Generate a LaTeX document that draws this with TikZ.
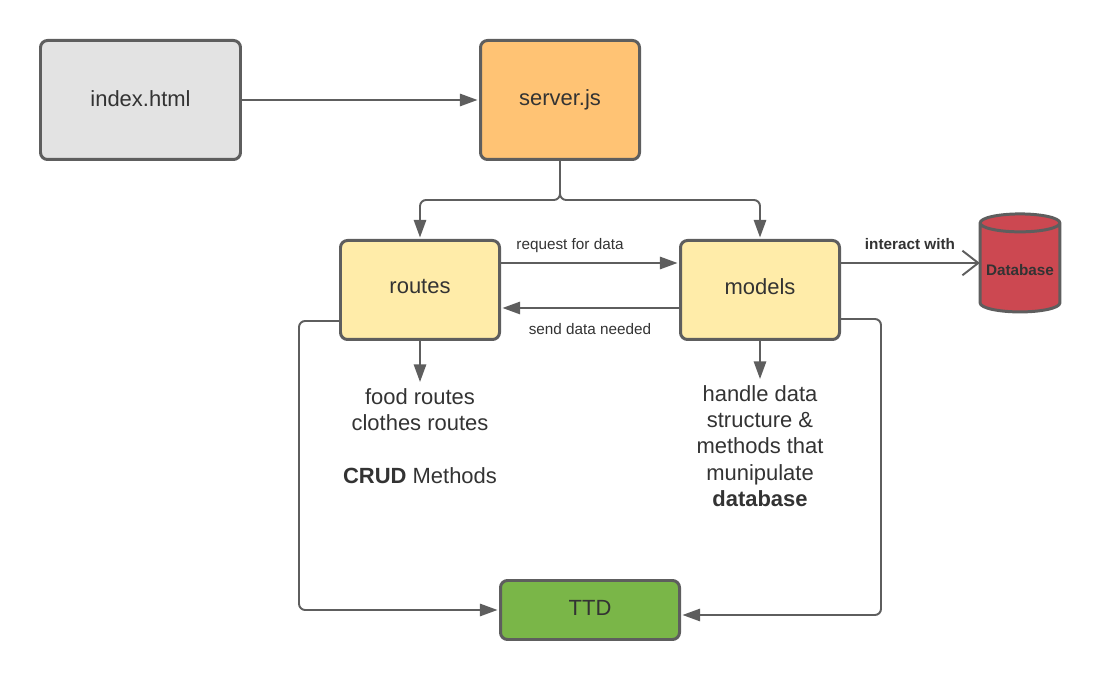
\documentclass[tikz,border=0pt]{standalone}
\usepackage{fontspec}
\setmainfont{Liberation Sans}
\usetikzlibrary{arrows.meta,shapes.geometric}
\definecolor{lineGray}{HTML}{5E5E5E}
\definecolor{textGray}{HTML}{333333}
\definecolor{pageGray}{HTML}{E3E3E3}
\definecolor{serverOrange}{HTML}{FFC374}
\definecolor{moduleYellow}{HTML}{FFECA9}
\definecolor{ttdGreen}{HTML}{7AB648}
\definecolor{dbRed}{HTML}{CC4851}
\tikzset{
	box/.style={draw=lineGray, line width=1.7pt, rounded corners=4pt, outer sep=1.7pt, text=textGray, font=\fontsize{12.5}{15}\selectfont},
	flow/.style={draw=lineGray, line width=1.1pt, rounded corners=3.5pt, shorten <=-1.7pt, -{Triangle[length=10pt, width=7pt]}},
	note/.style={text=textGray, align=center, font=\fontsize{12.5}{15}\selectfont},
	small/.style={text=textGray, inner sep=0pt, font=\fontsize{8.7}{10}\selectfont},
}

\begin{document}
\begin{tikzpicture}
	\useasboundingbox (0, 0) rectangle (22, 13.6);
	\node [box, fill=pageGray, minimum width=4cm, minimum height=2.38cm] (index) at (2.81, 11.6) {\raisebox{1.1pt}{index.html}};
	\node [box, fill=serverOrange, minimum width=3.18cm, minimum height=2.38cm] (server) at (11.2, 11.6) {\raisebox{-1.5pt}{server.js}};
	\node [box, fill=moduleYellow, minimum width=3.18cm, minimum height=1.98cm] (routes) at (8.4, 7.8) {\raisebox{3.6pt}{routes}};
	\node [box, fill=moduleYellow, minimum width=3.18cm, minimum height=1.98cm] (models) at (15.2, 7.8) {\raisebox{3.6pt}{models}};
	\node [box, fill=ttdGreen, minimum width=3.58cm, minimum height=1.18cm] (ttd) at (11.8, 1.4) {\raisebox{2.8pt}{TTD}};
	\node [cylinder, shape border rotate=90, aspect=0.225, draw=lineGray, fill=dbRed, line width=1.7pt, minimum width=1.54cm, minimum height=1.96cm, outer sep=1.7pt, text=textGray, font=\fontsize{8.7}{10}\selectfont\bfseries] (database) at (20.4, 8.19) {\raisebox{-2pt}{Database}};

	\node [note, anchor=north] (routesNote) at (8.4, 5.96) {food routes\\clothes routes\\[15pt]\textbf{CRUD} Methods};
	\node [note, anchor=north] (modelsNote) at (15.2, 6.02) {handle data\\structure \&\\methods that\\munipulate\\\textbf{database}};

	\node [small] (request) at (11.4, 8.68) {request for data};
	\node [small] (send) at (11.8, 7.02) {send data needed};
	\node [small, font=\fontsize{8.7}{10}\selectfont\bfseries] (interact) at (18.2, 8.72) {interact with};

	\coordinate (split) at (11.2, 9.6);
	\coordinate (routesExit) at (5.98, 7.18);
	\coordinate (modelsExit) at (17.62, 7.22);
	\coordinate (dbLevel) at ([yshift=0.54cm]models.east);

	\draw [flow] (index) -- (server);
	\draw [flow] (server.south) -- (split) -| (routes.north);
	\draw [flow] (server.south) -- (split) -| (models.north);
	\draw [flow] ([yshift=0.54cm]routes.east) -- ([yshift=0.54cm]models.west);
	\draw [flow] ([yshift=-0.36cm]models.west) -- ([yshift=-0.36cm]routes.east);
	\draw [flow] (routes.south) -- (routesNote.north);
	\draw [flow] (models.south) -- (modelsNote.north);
	\draw [flow, shorten >=-1.5pt, -{Straight Barb[length=9pt, width=14pt]}] (dbLevel) -- (dbLevel -| database.west);
	\draw [flow] (routes.west |- routesExit) -- (routesExit) |- (ttd.west);
	\draw [flow] (models.east |- modelsExit) -- (modelsExit) |- ([yshift=-0.1cm]ttd.east);
\end{tikzpicture}
\end{document}
